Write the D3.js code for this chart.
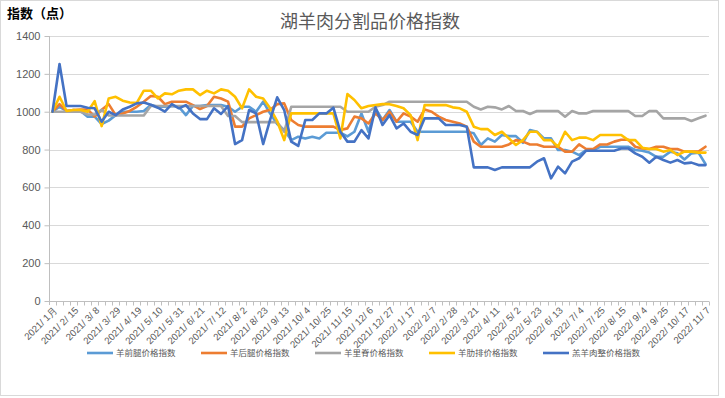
<!DOCTYPE html>
<html><head><meta charset="utf-8">
<script src="https://cdn.jsdelivr.net/npm/d3@7"></script>
<style>body{margin:0;background:#fff}svg{display:block}text{font-family:"Noto Sans CJK SC","Noto Sans",sans-serif}</style>
</head><body><svg id="c" width="725" height="398"></svg>
<script>
const categories = ["2021/1月","2021/2/1","2021/2/8","2021/2/15","2021/2/22","2021/3/1","2021/3/8","2021/3/15","2021/3/22","2021/3/29",
"2021/4/5","2021/4/12","2021/4/19","2021/4/26","2021/5/3","2021/5/10","2021/5/17","2021/5/24","2021/5/31","2021/6/7",
"2021/6/14","2021/6/21","2021/6/28","2021/7/5","2021/7/12","2021/7/19","2021/7/26","2021/8/2","2021/8/9","2021/8/16",
"2021/8/23","2021/8/30","2021/9/6","2021/9/13","2021/9/20","2021/9/27","2021/10/4","2021/10/11","2021/10/18","2021/10/25",
"2021/11/1","2021/11/8","2021/11/15","2021/11/22","2021/11/29","2021/12/6","2021/12/13","2021/12/20","2021/12/27","2022/1/3",
"2022/1/10","2022/1/17","2022/1/24","2022/1/31","2022/2/7","2022/2/14","2022/2/21","2022/2/28","2022/3/7","2022/3/14",
"2022/3/21","2022/3/28","2022/4/4","2022/4/11","2022/4/18","2022/4/25","2022/5/2","2022/5/9","2022/5/16","2022/5/23",
"2022/5/30","2022/6/6","2022/6/13","2022/6/20","2022/6/27","2022/7/4","2022/7/11","2022/7/18","2022/7/25","2022/8/1",
"2022/8/8","2022/8/15","2022/8/22","2022/8/29","2022/9/4","2022/9/11","2022/9/18","2022/9/25","2022/10/2","2022/10/9",
"2022/10/17","2022/10/24","2022/10/31","2022/11/7"];
const tickLabels = ["2021/1月","2021/2/15","2021/3/8","2021/3/29","2021/4/19","2021/5/10","2021/5/31","2021/6/21","2021/7/12","2021/8/2",
"2021/8/23","2021/9/13","2021/10/4","2021/10/25","2021/11/15","2021/12/6","2021/12/27","2022/1/17","2022/2/7","2022/2/28",
"2022/3/21","2022/4/11","2022/5/2","2022/5/23","2022/6/13","2022/7/4","2022/7/25","2022/8/15","2022/9/4","2022/9/25",
"2022/10/17","2022/11/7"];
const yTicks = [0,200,400,600,800,1000,1200,1400];
const seriesNames = ["羊前腿价格指数","羊后腿价格指数","羊里脊价格指数","羊肋排价格指数","羔羊肉整价格指数"];
const seriesColors = ["#5b9bd5","#ed7d31","#a5a5a5","#ffc000","#4472c4"];
const frontLeg = [1000,1026,1004,1009,1004,974,974,935,953,982,1000,1000,1000,1004,1035,1026,1026,1030,1026,982,
1030,1030,1035,1035,1035,1026,1000,1026,1026,1000,1053,990,935,903,850,868,859,868,859,889,
889,889,870,894,991,894,1018,956,1009,947,947,947,894,894,894,894,894,894,894,894,
886,824,859,842,877,871,871,836,903,894,859,859,798,798,789,771,798,798,815,815,
815,815,815,798,794,784,762,762,789,780,748,780,784,724];
const hindLeg = [1000,1040,1004,1009,1012,1012,974,1010,1040,982,991,1004,1026,1053,1083,1079,1040,1053,1053,1053,
1035,1014,1030,1079,1070,1053,921,921,965,982,1000,1010,1040,1044,956,930,921,921,921,921,
921,903,912,974,965,938,991,956,1000,947,991,974,947,1012,1000,974,956,947,938,921,
842,815,815,815,815,827,850,842,827,827,815,815,815,789,789,827,803,803,827,827,
842,852,852,815,806,803,815,815,803,803,789,789,789,815];
const loin = [1000,1000,1000,1000,1000,985,985,1010,980,980,980,980,980,980,1030,1030,1030,1030,1030,1030,
1030,1030,1030,1030,1030,977,977,945,945,945,945,945,945,894,1026,1026,1026,1026,1026,1026,
1026,1026,1000,1000,1000,1000,1026,1035,1053,1053,1053,1053,1053,1053,1053,1053,1053,1053,1053,1053,
1026,1012,1026,1023,1012,1030,1004,1004,988,1004,1004,1004,1004,974,1004,991,991,1004,1004,1004,
1004,1004,1004,977,977,1004,1004,965,965,965,965,951,965,979];
const ribs = [1000,1079,1004,1009,1009,1000,1056,924,1070,1079,1058,1049,1047,1111,1111,1070,1097,1092,1111,1118,
1118,1088,1111,1097,1118,1111,1079,1018,1118,1079,1070,1018,950,850,991,991,991,991,991,991,
991,859,1093,1062,1018,1030,1035,1040,1040,1030,1018,982,850,1035,1035,1035,1035,1023,1018,1000,
921,908,908,877,894,859,824,850,894,894,850,850,815,894,850,863,863,850,877,877,
877,877,850,850,810,803,803,789,798,771,789,789,784,784];
const wholeLamb = [1000,1252,1030,1030,1030,1021,1018,947,1000,982,1012,1026,1044,1049,1037,1021,1000,1040,1018,1035,
991,961,961,1018,988,1030,829,850,1009,991,829,958,1076,1009,842,819,956,956,991,991,
1021,894,842,842,903,859,1023,930,982,912,938,894,877,965,965,965,930,930,930,921,
706,706,706,692,706,706,706,706,706,736,754,648,710,674,736,754,794,794,794,794,
794,806,806,780,762,731,762,745,731,745,727,731,718,718];
const seriesValues = [frontLeg, hindLeg, loin, ribs, wholeLamb];

const svg = d3.select("#c");
svg.append("rect").attr("x",0.5).attr("y",0.5).attr("width",718).attr("height",395)
  .attr("fill","#fff").attr("stroke","#d9d9d9");

const x = d3.scaleBand().domain(categories).range([49,709]).padding(0);
const y = d3.scaleLinear().domain([0,1400]).range([301,36]);
const cx = c => x(c) + x.bandwidth()/2;

// gridlines
svg.append("g").selectAll("line").data(yTicks.filter(d=>d>0)).join("line")
  .attr("x1",49).attr("x2",709).attr("y1",d=>Math.round(y(d))+0.5).attr("y2",d=>Math.round(y(d))+0.5)
  .attr("stroke","#d9d9d9").attr("stroke-width",1);

// y axis
const ya = svg.append("g").attr("transform","translate(49.5,0)")
  .call(d3.axisLeft(y).tickValues(yTicks).tickSize(5).tickPadding(4).tickFormat(d3.format("d")));
ya.select(".domain").attr("stroke","#bfbfbf").attr("d","M0,36V305");
ya.selectAll(".tick line").attr("stroke","#bfbfbf");
ya.selectAll(".tick text").attr("fill","#595959").attr("font-size","11px")
  .style("font-family","'Liberation Sans',Arial,sans-serif");

// x axis
const xa = svg.append("g").attr("transform","translate(0,301.5)");
xa.append("line").attr("x1",49).attr("x2",709).attr("stroke","#bfbfbf");
xa.selectAll("line.t").data(categories).join("line").attr("class","t")
  .attr("x1",d=>Math.round(x(d)+x.bandwidth())+0.5).attr("x2",d=>Math.round(x(d)+x.bandwidth())+0.5)
  .attr("y1",0).attr("y2",4).attr("stroke","#bfbfbf");
xa.selectAll("text").data(tickLabels).join("text")
  .attr("transform",d=>`translate(${cx(d)+3},${7}) rotate(-45)`)
  .attr("text-anchor","end").attr("dy","0.35em")
  .attr("fill","#595959").attr("font-size","9.6px")
  .style("font-family","'Liberation Sans',Arial,sans-serif")
  .text(d=>d.replace(/\//g,"/ "));

// lines
const line = d3.line().x((d,i)=>cx(categories[i])).y(d=>y(d));
svg.append("g").selectAll("path").data(seriesValues).join("path")
  .attr("d",line).attr("fill","none")
  .attr("stroke",(d,i)=>seriesColors[i]).attr("stroke-width",2.6)
  .attr("stroke-linejoin","round").attr("stroke-linecap","round");

// titles
svg.append("text").attr("x",370).attr("y",28).attr("text-anchor","middle")
  .attr("fill","#595959").attr("font-size","18px").text("湖羊肉分割品价格指数");
svg.append("text").attr("x",7).attr("y",18).attr("fill","#000").attr("font-size","13px")
  .attr("font-weight","bold").text("指数（点）");

// legend
const lg = svg.append("g").selectAll("g").data(seriesNames).join("g")
  .attr("transform",(d,i)=>`translate(${87+i*114},353)`);
lg.append("line").attr("x1",0).attr("x2",26).attr("stroke",(d,i)=>seriesColors[i]).attr("stroke-width",2.6);
lg.append("text").attr("x",29).attr("dy","0.35em").attr("fill","#595959").attr("font-size","8.5px").text(d=>d);
</script></body></html>
